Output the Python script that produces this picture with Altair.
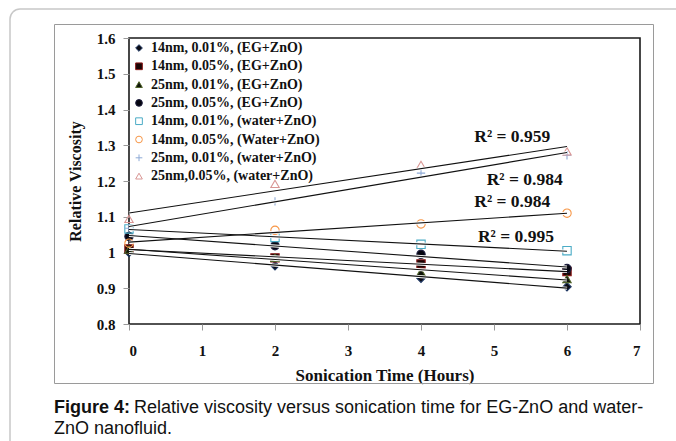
import altair as alt
import pandas as pd

hours = [0, 2, 4, 6]
series_names = [
    "14nm, 0.01%, (EG+ZnO)",
    "14nm, 0.05%, (EG+ZnO)",
    "25nm, 0.01%, (EG+ZnO)",
    "25nm, 0.05%, (EG+ZnO)",
    "14nm, 0.01%, (water+ZnO)",
    "14nm, 0.05%, (Water+ZnO)",
    "25nm, 0.01%, (water+ZnO)",
    "25nm,0.05%, (water+ZnO)",
]
eg_14_001 = [1.000, 0.963, 0.928, 0.904]
eg_14_005 = [1.010, 0.985, 0.968, 0.947]
eg_25_001 = [1.008, 0.985, 0.945, 0.926]
eg_25_005 = [1.045, 1.019, 0.995, 0.955]
wa_14_001 = [1.066, 1.042, 1.023, 1.005]
wa_14_005 = [1.026, 1.062, 1.080, 1.110]
wa_25_001 = [1.068, 1.143, 1.222, 1.272]
wa_25_005 = [1.094, 1.192, 1.245, 1.283]
all_values = [eg_14_001, eg_14_005, eg_25_001, eg_25_005,
              wa_14_001, wa_14_005, wa_25_001, wa_25_005]

r2_text = ["R\u00b2 = 0.959", "R\u00b2 = 0.984", "R\u00b2 = 0.984", "R\u00b2 = 0.995"]
r2_hours = [5.25, 5.42, 5.25, 5.30]
r2_value = [1.323, 1.203, 1.141, 1.043]

x_ticks = [0, 1, 2, 3, 4, 5, 6, 7]
y_ticks = [0.8, 0.9, 1.0, 1.1, 1.2, 1.3, 1.4, 1.5, 1.6]

rows = []
for name, vals in zip(series_names, all_values):
    for h, v in zip(hours, vals):
        rows.append({"series": name, "hours": h, "value": v})
df = pd.DataFrame(rows)
ann = pd.DataFrame({"text": r2_text, "hours": r2_hours, "value": r2_value})

plus_path = "M-1,0L1,0M0,-1L0,1"
shapes = ["diamond", "square", "triangle-up", "circle",
          "square", "circle", plus_path, "triangle-up"]
fills = ["#0b0b14", "#1a0505", "#0f140a", "#050510",
         "transparent", "transparent", "transparent", "transparent"]
strokes = ["#1f3864", "#8b1a1a", "#4f6228", "#1f1f3f",
           "#4bacc6", "#f79646", "#8eaad6", "#d99694"]

SERIF = "Liberation Serif"
SANS = "Liberation Sans"

W, H = 511, 286

leg = alt.Legend(
    orient="none", legendX=3, legendY=3, title=None,
    labelFont=SERIF, labelFontWeight="bold", labelFontSize=14,
    labelColor="#111", symbolSize=45, symbolStrokeWidth=1,
    rowPadding=4.3, labelLimit=400, padding=0, labelOffset=5,
)

x_axis = alt.Axis(values=x_ticks, title="Sonication Time (Hours)",
                  format="d", labelOverlap=False)
y_axis = alt.Axis(values=y_ticks, title="Relative Viscosity", labelOverlap=False,
                  tickCount=9,
                  labelExpr="datum.value == 1 ? '1' : format(datum.value, '.1f')")
x_scale = alt.Scale(domain=[0, 7], nice=False)
y_scale = alt.Scale(domain=[0.8, 1.6], nice=False, zero=False)

def xe():
    return alt.X("hours:Q", scale=x_scale, axis=x_axis)

def ye():
    return alt.Y("value:Q", scale=y_scale, axis=y_axis)

points = alt.Chart(df).mark_point(size=70, strokeWidth=1.1, opacity=1).encode(
    x=xe(), y=ye(),
    shape=alt.Shape("series:N", scale=alt.Scale(domain=series_names, range=shapes), legend=leg),
    fill=alt.Fill("series:N", scale=alt.Scale(domain=series_names, range=fills), legend=leg),
    stroke=alt.Stroke("series:N", scale=alt.Scale(domain=series_names, range=strokes), legend=leg),
)

trend_halo = alt.Chart(df).transform_regression(
    "hours", "value", groupby=["series"], extent=[0, 6]
).mark_line(color="white", strokeWidth=3).encode(
    x=xe(), y=ye(), detail="series:N")

trend = alt.Chart(df).transform_regression(
    "hours", "value", groupby=["series"], extent=[0, 6]
).mark_line(color="#111", strokeWidth=1.1).encode(
    x=xe(), y=ye(), detail="series:N")

labels = alt.Chart(ann).mark_text(
    font=SERIF, fontWeight="bold", fontSize=17.5, color="#111", align="center", baseline="middle"
).encode(x=xe(), y=ye(), text="text:N")

frame_df = pd.DataFrame({"k": [0]})
outer = alt.Chart(frame_df).mark_rect(
    fill="transparent", stroke="#c8c8c8", strokeWidth=1.5, cornerRadius=10
).encode(x=alt.value(10 - 129), x2=alt.value(720 - 129),
         y=alt.value(9 - 38), y2=alt.value(480 - 38))
box = alt.Chart(frame_df).mark_rect(
    fill="transparent", stroke="#9a9a9a", strokeWidth=1
).encode(x=alt.value(54.5 - 129), x2=alt.value(653.5 - 129),
         y=alt.value(24.5 - 38), y2=alt.value(383.5 - 38))

CAP = 18
cap_bold = alt.Chart(frame_df).mark_text(
    text="Figure 4:", font=SANS, fontWeight="bold", fontSize=CAP, color="#111",
    align="left", baseline="middle"
).encode(x=alt.value(54 - 129), y=alt.value(408 - 38))
cap_rest = alt.Chart(frame_df).mark_text(
    text="Relative viscosity versus sonication time for EG-ZnO and water-",
    font=SANS, fontSize=CAP, color="#111", align="left", baseline="middle"
).encode(x=alt.value(134 - 129), y=alt.value(408 - 38))
cap_line2 = alt.Chart(frame_df).mark_text(
    text="ZnO nanofluid.", font=SANS, fontSize=CAP, color="#111",
    align="left", baseline="middle"
).encode(x=alt.value(54 - 129), y=alt.value(429 - 38))

chart = alt.layer(
    outer, box, cap_bold, cap_rest, cap_line2, points, trend_halo, trend, labels
).properties(
    width=W, height=H,
    autosize=alt.AutoSizeParams(type="none"),
    padding={"left": 129, "top": 38, "right": 676 - 129 - W, "bottom": 441 - 38 - H},
    background="white",
).configure_view(
    stroke="#1a1a1a", strokeWidth=1.6
).configure_axis(
    grid=False, domain=False, tickColor="#999", tickSize=6, tickWidth=1,
    labelOverlap=False,
    labelFont=SERIF, labelFontWeight="bold", labelColor="#111",
    titleFont=SERIF, titleFontWeight="bold", titleColor="#111", titleFontSize=17,
).configure_axisX(
    labelFontSize=15, labelPadding=13, titlePadding=9,
).configure_axisY(
    labelFontSize=15, labelPadding=8, titlePadding=13, titleFontSize=16,
)

chart.save("out.html", embed_options={"renderer": "svg", "actions": False})
